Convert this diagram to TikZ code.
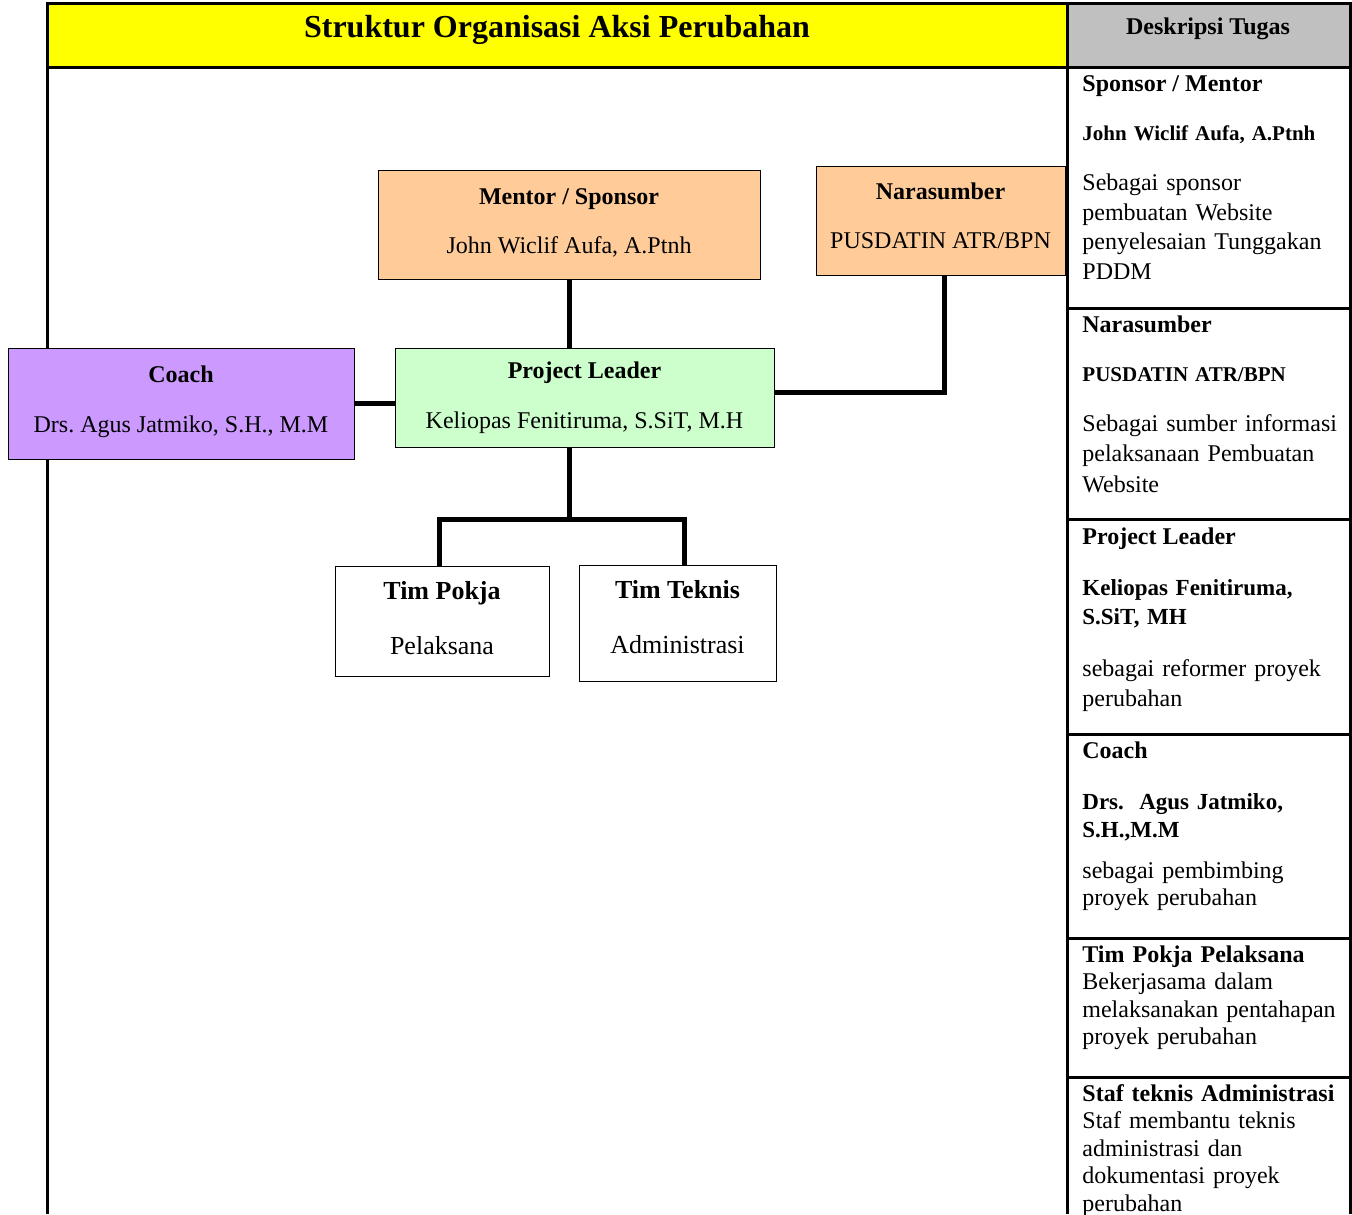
\documentclass[tikz,border=0pt]{standalone}
\usepackage{fontspec}
\setmainfont{Liberation Serif}
\usetikzlibrary{positioning,calc}
\definecolor{headyellow}{HTML}{FFFF00}
\definecolor{headgray}{HTML}{C0C0C0}
\definecolor{peach}{HTML}{FFCC99}
\definecolor{lilac}{HTML}{CC99FF}
\definecolor{mint}{HTML}{CCFFCC}
\newcommand{\lift}[1]{\rule[-#1]{0pt}{0pt}}
\frenchspacing
\tikzset{
    orgbox/.style={draw, line width=0.5pt, inner sep=2pt, align=center,
        font=\fontsize{12}{14.75}\selectfont},
    timbox/.style={orgbox, font=\fontsize{13}{16}\selectfont},
    link/.style={line width=2.5pt, line join=miter},
    frame/.style={line width=1.5pt},
    deschead/.style={anchor=base west, inner sep=0pt,
        font=\bfseries\fontsize{12}{14.75}\selectfont},
    descname/.style={anchor=base west, inner sep=0pt, text width=140pt, align=left,
        font=\bfseries\fontsize{11.5}{14.5}\selectfont},
    desctext/.style={anchor=base west, inner sep=0pt, text width=140pt, align=left,
        font=\fontsize{12}{14.75}\selectfont}
}

\begin{document}
\begin{tikzpicture}[x=0.5pt, y=-0.5pt]
    \useasboundingbox (0,0) rectangle (1352,1214);
    \fill[headyellow] (47,4) rectangle (1067,68);
    \fill[headgray] (1067,4) rectangle (1350,68);
    \draw[frame] (47,1214) -- (47,4) -- (1350,4) -- (1350,1214);
    \draw[frame] (1067,4) -- (1067,1214);
    \draw[frame] (47,68) -- (1350,68);
    \foreach \y in {308,519,734,938,1077}
        \draw[frame] (1067,\y) -- (1350,\y);

    \node[anchor=base, inner sep=0pt, font=\bfseries\fontsize{16}{19}\selectfont] (title) at (557,38) {Struktur Organisasi Aksi Perubahan};
    \node[deschead, anchor=base] (desc) at (1208,35) {Deskripsi Tugas};

    \node[orgbox, fill=peach, minimum width=191pt, minimum height=54pt] (mentor) at (569,225)
        {\textbf{Mentor / Sponsor}\\[10pt] John Wiclif Aufa, A.Ptnh\lift{4pt}};
    \node[orgbox, fill=peach, minimum width=124.5pt, minimum height=54pt] (nara) at (940.5,221)
        {\textbf{Narasumber}\\[10pt] PUSDATIN ATR/BPN\lift{5.5pt}};
    \node[orgbox, fill=mint, minimum width=189.5pt, minimum height=49.5pt] (lead) at (584.5,397.5)
        {\textbf{Project Leader}\\[10.5pt] Keliopas Fenitiruma, S.SiT, M.H};
    \node[orgbox, fill=lilac, minimum width=173pt, minimum height=55.5pt] (coach) at (181,403.5)
        {\textbf{Coach}\\[10.5pt] Drs. Agus Jatmiko, S.H., M.M\lift{4.5pt}};
    \node[timbox, minimum width=107pt, minimum height=55pt] (pokja) at (442,621)
        {\textbf{Tim Pokja}\\[11.5pt] Pelaksana\lift{3pt}};
    \node[timbox, minimum width=98.5pt, minimum height=58pt] (teknis) at (677.5,623)
        {\textbf{Tim Teknis}\\[11.5pt] Administrasi\lift{6pt}};

    \coordinate (split) at (569,519);
    \draw[link] (mentor.south) -- (mentor.south |- lead.north);
    \draw[link] (coach.east) -- (coach.east -| lead.west);
    \draw[link] ([yshift=2.75pt]lead.east) -| ([xshift=1.75pt]nara.south);
    \draw[link] (mentor.south |- lead.south) -- (split);
    \draw[link] ([xshift=-1.5pt]pokja.north) |- (split) -| ([xshift=3.25pt]teknis.north);

    \node[deschead] (h1) at (1082,92) {Sponsor / Mentor};
    \node[descname, font=\bfseries\fontsize{10.5}{13}\selectfont] (n1) at (1082,141) {John Wiclif Aufa, A.Ptnh};
    \node[desctext] (t1) at (1082,191) {Sebagai sponsor\\ pembuatan Website\\ penyelesaian Tunggakan\\ PDDM};

    \node[deschead] (h2) at (1082,332) {Narasumber};
    \node[descname, font=\bfseries\fontsize{10.5}{13}\selectfont] (n2) at (1082,381) {PUSDATIN ATR/BPN};
    \node[desctext, font=\fontsize{12}{15.25}\selectfont] (t2) at (1082,431) {Sebagai sumber informasi\\ pelaksanaan Pembuatan\\ Website};

    \node[deschead] (h3) at (1082,544) {Project Leader};
    \node[descname] (n3) at (1082,595) {Keliopas Fenitiruma,\\ S.SiT, MH};
    \node[desctext, font=\fontsize{12}{15}\selectfont] (t3) at (1082,676) {sebagai reformer proyek\\ perubahan};

    \node[deschead] (h4) at (1082,758) {Coach};
    \node[descname, font=\bfseries\fontsize{11.5}{14}\selectfont] (n4) at (1082,809) {Drs.\ \ Agus Jatmiko,\\ S.H.,M.M};
    \node[desctext, font=\fontsize{12}{13.5}\selectfont] (t4) at (1082,878) {sebagai pembimbing\\ proyek perubahan};

    \node[desctext, font=\fontsize{12}{13.75}\selectfont] (t5) at (1082,962)
        {\textbf{Tim Pokja Pelaksana}\\ Bekerjasama dalam\\ melaksanakan pentahapan\\ proyek perubahan};
    \node[desctext, font=\fontsize{12}{13.75}\selectfont] (t6) at (1082,1101)
        {\textbf{Staf teknis Administrasi}\\ Staf membantu teknis\\ administrasi dan\\ dokumentasi proyek\\ perubahan};
\end{tikzpicture}
\end{document}
